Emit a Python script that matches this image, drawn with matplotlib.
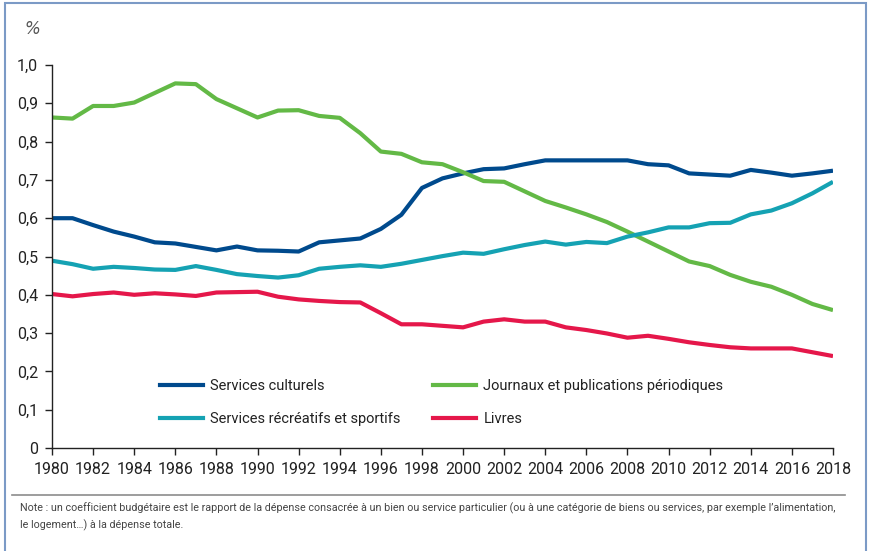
import matplotlib.pyplot as plt
from matplotlib.patches import Rectangle
from matplotlib.lines import Line2D

years = list(range(1980, 2019))

culturels = [0.600, 0.600, 0.582, 0.565, 0.552, 0.537, 0.534, 0.525, 0.516, 0.526,
             0.516, 0.515, 0.513, 0.537, 0.542, 0.547, 0.572, 0.609, 0.679, 0.704,
             0.717, 0.728, 0.730, 0.741, 0.751, 0.751, 0.751, 0.751, 0.751, 0.741,
             0.738, 0.717, 0.714, 0.711, 0.726, 0.719, 0.711, 0.717, 0.724]

recreatifs = [0.489, 0.480, 0.468, 0.473, 0.470, 0.466, 0.465, 0.475, 0.465, 0.454,
              0.449, 0.445, 0.451, 0.468, 0.473, 0.477, 0.473, 0.481, 0.491, 0.501,
              0.510, 0.507, 0.519, 0.530, 0.539, 0.531, 0.538, 0.535, 0.552, 0.563,
              0.576, 0.576, 0.587, 0.588, 0.610, 0.620, 0.639, 0.665, 0.695]

journaux = [0.863, 0.860, 0.893, 0.893, 0.902, 0.927, 0.952, 0.950, 0.911, 0.887,
            0.863, 0.881, 0.882, 0.867, 0.862, 0.822, 0.774, 0.768, 0.746, 0.741,
            0.720, 0.697, 0.695, 0.670, 0.645, 0.628, 0.610, 0.590, 0.565, 0.539,
            0.513, 0.487, 0.475, 0.452, 0.434, 0.421, 0.400, 0.376, 0.360]

livres = [0.402, 0.396, 0.402, 0.406, 0.400, 0.404, 0.401, 0.397, 0.406, 0.407,
          0.408, 0.395, 0.388, 0.384, 0.381, 0.380, 0.352, 0.323, 0.323, 0.319,
          0.315, 0.330, 0.336, 0.330, 0.330, 0.315, 0.308, 0.299, 0.288, 0.293,
          0.285, 0.276, 0.269, 0.263, 0.260, 0.260, 0.260, 0.250, 0.240]

# (libellé, valeurs, couleur, colonne de légende)
series = [
    ("Services culturels", culturels, "#004a8d", 0),
    ("Journaux et publications périodiques", journaux, "#63b946", 1),
    ("Services récréatifs et sportifs", recreatifs, "#15a2b3", 0),
    ("Livres", livres, "#e5174a", 1),
]

yticks = [0, 0.1, 0.2, 0.3, 0.4, 0.5, 0.6, 0.7, 0.8, 0.9, 1.0]
ytick_labels = ["0", "0,1", "0,2", "0,3", "0,4", "0,5", "0,6", "0,7", "0,8", "0,9", "1,0"]
xticks = list(range(1980, 2019, 2))

note = ("Note : un coefficient budgétaire est le rapport de la dépense consacrée à un bien ou service "
        "particulier (ou à une catégorie de biens ou services, par exemple l\u2019alimentation,\n"
        "le logement\u2026) à la dépense totale.")

plt.rcParams['font.family'] = ['Roboto', 'DejaVu Sans']

W, H = 876, 551
fig = plt.figure(figsize=(W / 100, H / 100), dpi=100)
ax = fig.add_axes([52 / W, 1 - 448 / H, (833 - 52) / W, (448 - 65) / H])

for name, vals, col, _ in series:
    ax.plot(years, vals, color=col, linewidth=3, label=name, solid_capstyle='butt')

ax.set_xlim(1980, 2018)
ax.set_ylim(0, 1.0)
ax.set_xticks(xticks)
ax.set_xticklabels([str(x) for x in xticks])
ax.set_yticks(yticks)
ax.set_yticklabels(ytick_labels)
ax.tick_params(axis='both', labelsize=11.5, colors='#222222', length=5, width=1, direction='out')
ax.tick_params(axis='x', pad=5)
ax.tick_params(axis='y', pad=5)
for side in ['top', 'right']:
    ax.spines[side].set_visible(False)
for side in ['left', 'bottom']:
    ax.spines[side].set_linewidth(1)
    ax.spines[side].set_color('#222222')

# deux légendes, une par colonne
leg_fs = 10.5
legends = []
for col_idx, x_px in [(0, 160), (1, 433)]:
    items = [s for s in series if s[3] == col_idx]
    handles = [Line2D([], [], color=s[2], linewidth=3) for s in items]
    leg = ax.legend(handles, [s[0] for s in items], frameon=False, fontsize=leg_fs,
                    loc='upper left', bbox_to_anchor=((x_px - 52) / 781, (448 - 379) / 383),
                    handlelength=2.95, handletextpad=0.5, labelspacing=1.3,
                    borderpad=0, borderaxespad=0)
    for t in leg.get_texts():
        t.set_color('#222222')
    legends.append(leg)
ax.add_artist(legends[0])  # la seconde reste ax.legend_

fig.text(24 / W, 1 - 29 / H, "%", fontsize=12, style='italic', color='#555555', va='center',
         family='DejaVu Sans')

# cadre et séparateur
fig.add_artist(Rectangle((5 / W, -0.05), (866 - 5) / W, 1.05 - 3 / H, transform=fig.transFigure,
                         fill=False, edgecolor='#7b9ac6', linewidth=1.5))
fig.add_artist(Line2D([12 / W, 845 / W], [1 - 495 / H, 1 - 495 / H], transform=fig.transFigure,
                      color='#8c8c8c', linewidth=1.2))
note_txt = fig.text(20 / W, 1 - 503 / H, note, fontsize=9, color='#444444', va='top', linespacing=1.55)

# ajuster la taille de la note à la largeur de la ligne
renderer = fig.canvas.get_renderer()
first = fig.text(0, 0, note.split("\n")[0], fontsize=9)
w = first.get_window_extent(renderer).width
first.remove()
note_txt.set_fontsize(9 * 822 / w)

fig.savefig('out.png', dpi=100)
